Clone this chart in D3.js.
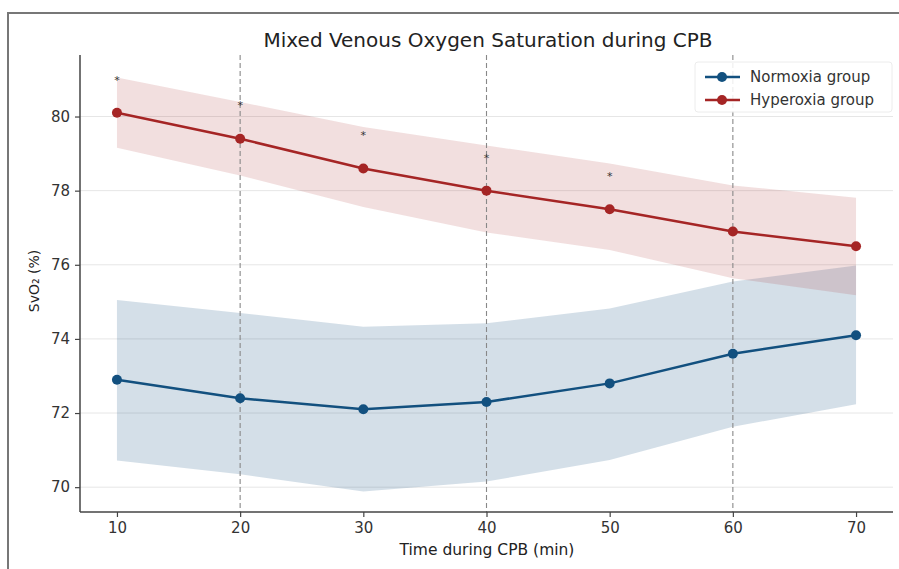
<!DOCTYPE html>
<html><head><meta charset="utf-8">
<script src="https://cdn.jsdelivr.net/npm/d3@7"></script>
<style>
html,body{margin:0;padding:0;background:#fff;}
svg{display:block;font-family:"DejaVu Sans",sans-serif;}
</style></head>
<body>
<svg id="chart" width="899" height="569"></svg>
<script>
const times = [10, 20, 30, 40, 50, 60, 70];
const normoxiaMean  = [72.9, 72.4, 72.1, 72.3, 72.8, 73.6, 74.1];
const normoxiaUpper = [75.05, 74.7, 74.33, 74.42, 74.82, 75.55, 75.98];
const normoxiaLower = [70.72, 70.35, 69.88, 70.15, 70.73, 71.63, 72.24];
const hyperoxiaMean  = [80.1, 79.4, 78.6, 78.0, 77.5, 76.9, 76.5];
const hyperoxiaUpper = [81.05, 80.39, 79.72, 79.22, 78.73, 78.14, 77.81];
const hyperoxiaLower = [79.16, 78.41, 77.56, 76.87, 76.4, 75.64, 75.18];
const starTimes = [10, 20, 30, 40, 50];
const starValues = [81.02, 80.33, 79.52, 78.92, 78.41];
const refLines = [20, 40, 60];
const yTicks = [70, 72, 74, 76, 78, 80];
const xTicks = [10, 20, 30, 40, 50, 60, 70];
const seriesNames = ["Normoxia group", "Hyperoxia group"];
const seriesColors = ["#12507f", "#a52525"];

(function () {
const svg = d3.select("#chart");
const mLeft = 80, mRight = 893, mTop = 55, mBottom = 512;
const x = d3.scaleLinear().domain([7, 73]).range([mLeft, mRight]);
const y = d3.scaleLinear().domain([69.33, 81.66]).range([mBottom, mTop]);

// outer frame
svg.append("path").attr("d", "M8,569 L8,13 L899,13").attr("fill", "none")
  .attr("stroke", "#777").attr("stroke-width", 2);

// grid
svg.append("g").selectAll("line").data(yTicks).join("line")
  .attr("x1", mLeft).attr("x2", mRight).attr("y1", d => y(d)).attr("y2", d => y(d))
  .attr("stroke", "#e6e6e6").attr("stroke-width", 1);

// bands
const series = [
  {mean: normoxiaMean, up: normoxiaUpper, lo: normoxiaLower, color: seriesColors[0], op: 0.18},
  {mean: hyperoxiaMean, up: hyperoxiaUpper, lo: hyperoxiaLower, color: seriesColors[1], op: 0.15}
];
const area = d3.area().x(d => x(d.t)).y0(d => y(d.lo)).y1(d => y(d.up));
series.forEach(s => {
  const pts = times.map((t, i) => ({t, lo: s.lo[i], up: s.up[i]}));
  svg.append("path").datum(pts).attr("d", area).attr("fill", s.color).attr("fill-opacity", s.op);
});

// reference dashed lines
svg.append("g").selectAll("line").data(refLines).join("line")
  .attr("x1", d => x(d)).attr("x2", d => x(d)).attr("y1", mTop).attr("y2", mBottom)
  .attr("stroke", "#888").attr("stroke-width", 1.1).attr("stroke-dasharray", "5,3");

// lines + markers
const line = d3.line().x(d => x(d.t)).y(d => y(d.v));
series.forEach(s => {
  const pts = times.map((t, i) => ({t, v: s.mean[i]}));
  svg.append("path").datum(pts).attr("d", line).attr("fill", "none")
    .attr("stroke", s.color).attr("stroke-width", 2.5);
  svg.append("g").selectAll("circle").data(pts).join("circle")
    .attr("cx", d => x(d.t)).attr("cy", d => y(d.v)).attr("r", 5).attr("fill", s.color);
});

// significance stars
svg.append("g").selectAll("text").data(starTimes).join("text")
  .attr("x", d => x(d)).attr("y", (d, i) => y(starValues[i]) + 5)
  .attr("text-anchor", "middle").attr("font-size", 11).attr("fill", "#333").text("*");

// axes
const xAxis = d3.axisBottom(x).tickValues(xTicks).tickSize(5).tickPadding(5).tickSizeOuter(0);
const yAxis = d3.axisLeft(y).tickValues(yTicks).tickSize(5).tickPadding(5).tickSizeOuter(0);
const gx = svg.append("g").attr("transform", `translate(0,${mBottom})`).call(xAxis);
const gy = svg.append("g").attr("transform", `translate(${mLeft},0)`).call(yAxis);
[gx, gy].forEach(g => {
  g.select(".domain").attr("stroke", "#444").attr("stroke-width", 1.5);
  g.selectAll(".tick line").attr("stroke", "#444").attr("stroke-width", 1.2);
  g.selectAll(".tick text").attr("font-size", 15).attr("fill", "#333")
    .attr("font-family", "DejaVu Sans, sans-serif");
});
gx.select(".domain").attr("d", `M${mLeft},0H${mRight}`);
gy.select(".domain").attr("d", `M0,${mBottom}V${mTop}`);

// labels
svg.append("text").attr("x", 488).attr("y", 47).attr("text-anchor", "middle")
  .attr("font-size", 20).attr("fill", "#222").text("Mixed Venous Oxygen Saturation during CPB");
svg.append("text").attr("x", 487).attr("y", 555).attr("text-anchor", "middle")
  .attr("font-size", 15.5).attr("fill", "#222").text("Time during CPB (min)");
svg.append("text").attr("transform", `translate(39,${281}) rotate(-90)`)
  .attr("text-anchor", "middle").attr("font-size", 14).attr("fill", "#222").text("SvO₂ (%)");

// legend
const lg = svg.append("g");
lg.append("rect").attr("x", 695).attr("y", 62).attr("width", 197).attr("height", 50)
  .attr("rx", 3).attr("fill", "#fff").attr("fill-opacity", 0.85).attr("stroke", "#ececec");
seriesNames.forEach((name, i) => {
  const yy = 77 + i * 23;
  lg.append("line").attr("x1", 705).attr("x2", 740).attr("y1", yy).attr("y2", yy)
    .attr("stroke", seriesColors[i]).attr("stroke-width", 2.5);
  lg.append("circle").attr("cx", 722).attr("cy", yy).attr("r", 5).attr("fill", seriesColors[i]);
  lg.append("text").attr("x", 750).attr("y", yy + 5).attr("font-size", 15).attr("fill", "#333").text(name);
});
})();
</script>
</body></html>
